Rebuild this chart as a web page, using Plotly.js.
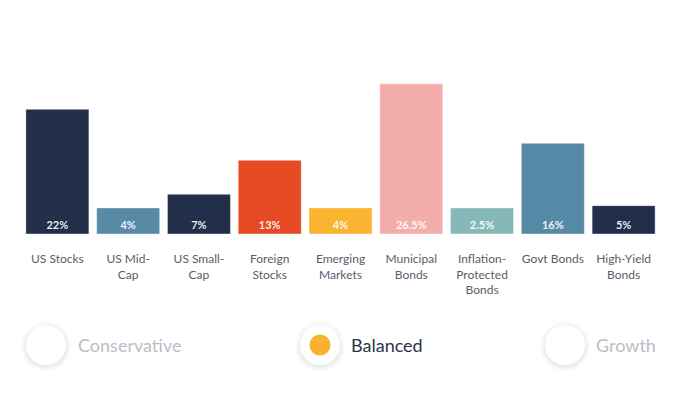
<!DOCTYPE html>
<html>
<head>
<meta charset="utf-8">
<script src="https://cdn.plot.ly/plotly-3.0.1.min.js"></script>
<style>
html,body{margin:0;padding:0;background:#fff;}
#chart{width:700px;height:394px;}
</style>
</head>
<body>
<div id="chart"></div>
<script>
const categories = ["US Stocks","US Mid-Cap","US Small-Cap","Foreign Stocks","Emerging Markets","Municipal Bonds","Inflation-Protected Bonds","Govt Bonds","High-Yield Bonds"];
const tickLabels = ["US Stocks","US Mid-<br>Cap","US Small-<br>Cap","Foreign<br>Stocks","Emerging<br>Markets","Municipal<br>Bonds","Inflation-<br>Protected<br>Bonds","Govt Bonds","High-Yield<br>Bonds"];
const allocation = [22, 4, 7, 13, 4, 26.5, 2.5, 16, 5];
const barColors = ["#222e4a","#588aa5","#222e4a","#e54a24","#fbb430","#f3adaa","#86b8b7","#5689a5","#222e4a"];
const profiles = ["Conservative","Balanced","Growth"];
const selectedProfile = "Balanced";
const minVisible = 4.6; // smallest bars drawn at a minimum height so the label fits

const shown = allocation.map(v => Math.max(v, minVisible));
const textLabels = allocation.map(v => v + "%");

const trace = {
  type: "bar",
  x: categories,
  y: shown,
  text: textLabels,
  textposition: "inside",
  insidetextanchor: "start",
  textangle: 0,
  cliponaxis: false,
  textfont: {family: "Lato, 'Open Sans', sans-serif", size: 11, color: "rgba(255,255,255,0.92)", weight: 700},
  marker: {color: barColors, line: {color: "rgba(255,255,255,0.5)", width: 0.8}},
  hoverinfo: "skip"
};

// plot area: x 22..659, y 64..234
const L = 22, R = 659, T = 64, B = 234;
const px = x => (x - L) / (R - L);
const py = y => (B - y) / (B - T);

const shapes = [];
const annotations = [];
const circleX = [46, 320, 565];
const labelX = [76, 349, 594];
profiles.forEach((p, i) => {
  const cx = px(circleX[i]), cy = py(345);
  // soft shadow
  [[25, "rgba(0,0,0,0.018)"], [23, "rgba(0,0,0,0.025)"], [21.5, "rgba(0,0,0,0.03)"]].forEach(([r, c]) => {
    shapes.push({type: "circle", xref: "paper", yref: "paper", xsizemode: "pixel", ysizemode: "pixel",
      xanchor: cx, yanchor: cy, x0: -r, x1: r, y0: -r - 1.5, y1: r - 1.5, fillcolor: c, line: {width: 0}, layer: "above"});
  });
  shapes.push({type: "circle", xref: "paper", yref: "paper", xsizemode: "pixel", ysizemode: "pixel",
    xanchor: cx, yanchor: cy, x0: -20, x1: 20, y0: -20, y1: 20, fillcolor: "#ffffff", line: {width: 0}, layer: "above"});
  if (p === selectedProfile) {
    shapes.push({type: "circle", xref: "paper", yref: "paper", xsizemode: "pixel", ysizemode: "pixel",
      xanchor: cx, yanchor: cy, x0: -10.5, x1: 10.5, y0: -10.5, y1: 10.5, fillcolor: "#fbb130", line: {width: 0}, layer: "above"});
  }
  annotations.push({xref: "paper", yref: "paper", x: px(labelX[i]), y: cy, xanchor: "left", yanchor: "middle",
    text: p, showarrow: false,
    font: {family: "Lato, 'Open Sans', sans-serif", size: 18, color: p === selectedProfile ? "#2b3447" : "#b9bec6"}});
});

const layout = {
  width: 700, height: 394,
  margin: {l: L, r: 700 - R, t: T, b: 394 - B, pad: 0},
  paper_bgcolor: "#ffffff", plot_bgcolor: "#ffffff",
  showlegend: false,
  bargap: 0.11,
  xaxis: {
    tickmode: "array", tickvals: categories, ticktext: tickLabels,
    showgrid: false, zeroline: false, showline: false, ticks: "",
    ticklabelstandoff: 16,
    tickfont: {family: "Lato, 'Open Sans', sans-serif", size: 12, color: "#575d68"},
    fixedrange: true
  },
  yaxis: {range: [0, 30], visible: false, fixedrange: true},
  shapes: shapes,
  annotations: annotations
};

Plotly.newPlot("chart", [trace], layout, {displayModeBar: false, staticPlot: true});
</script>
</body>
</html>
